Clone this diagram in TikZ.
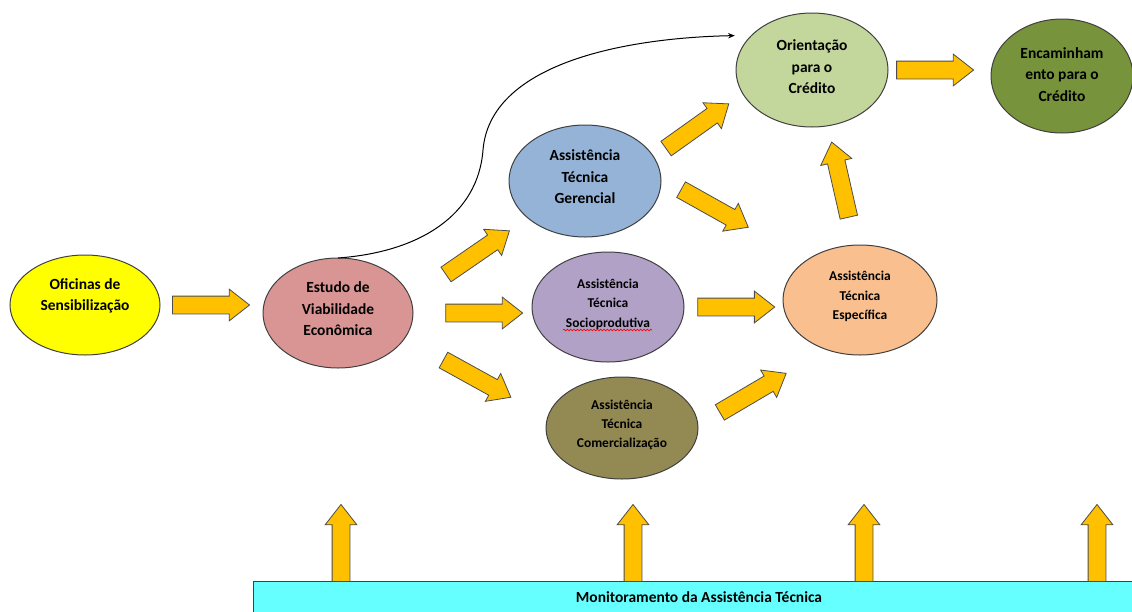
\documentclass[tikz,border=0pt]{standalone}
\usepackage{fontspec}
\setmainfont{Carlito}
\usetikzlibrary{shapes.geometric,shapes.arrows,arrows.meta,decorations.pathmorphing}

\definecolor{corOficinas}{HTML}{FFFF00}
\definecolor{corEstudo}{HTML}{D99594}
\definecolor{corGerencial}{HTML}{95B3D7}
\definecolor{corSocio}{HTML}{B2A1C7}
\definecolor{corComercial}{HTML}{938953}
\definecolor{corEspecifica}{HTML}{FABF8F}
\definecolor{corOrientacao}{HTML}{C3D69B}
\definecolor{corEncaminha}{HTML}{77933C}
\definecolor{corBarra}{HTML}{66FFFF}
\definecolor{corSeta}{HTML}{FFC000}

\tikzset{every picture/.style={line width=0.75pt}}
\tikzset{
  etapa/.style={ellipse, draw=black!75, inner sep=0pt, outer sep=0pt, align=center,
    font=\bfseries\fontsize{11.6}{16.1}\selectfont},
  etapapeq/.style={etapa, font=\bfseries\fontsize{10.1}{14.6}\selectfont},
  seta/.style={single arrow, draw=black!70, fill=corSeta, line width=0.6pt, transform shape,
    minimum height=57.75pt, minimum width=23.25pt, inner sep=6.375pt,
    single arrow head extend=5.25pt, single arrow tip angle=76, single arrow head indent=0pt,
    sloped, allow upside down},
}

\begin{document}
\begin{tikzpicture}[x=0.75pt,y=0.75pt,yscale=-1,xscale=1]
\useasboundingbox (0,0) rectangle (1132,611);

%Shape: Ellipse
\node[etapa, fill=corOficinas, minimum width=112.5pt, minimum height=75pt, text depth=15.5pt] (oficinas) at (85,305) {Oficinas de\\Sensibilização};
%Shape: Ellipse
\node[etapa, fill=corEstudo, minimum width=112.5pt, minimum height=82.5pt, text depth=6pt] (estudo) at (338,313) {Estudo de\\Viabilidade\\Econômica};
%Shape: Ellipse
\node[etapa, fill=corGerencial, minimum width=114pt, minimum height=84pt, text depth=6pt] (gerencial) at (585,181) {Assistência\\Técnica\\Gerencial};
%Shape: Ellipse
\node[etapapeq, fill=corSocio, minimum width=114pt, minimum height=82.5pt, text depth=5.8pt] (socio) at (608,307) {Assistência\\Técnica\\Socioprodutiva};
%Shape: Ellipse
\node[etapapeq, fill=corComercial, minimum width=114pt, minimum height=76.5pt, text depth=6.3pt] (comercial) at (622,428) {Assistência\\Técnica\\Comercialização};
%Shape: Ellipse
\node[etapapeq, fill=corEspecifica, minimum width=115.5pt, minimum height=82.5pt, text depth=7pt] (especifica) at (860,300) {Assistência\\Técnica\\Específica};
%Shape: Ellipse
\node[etapa, fill=corOrientacao, minimum width=114pt, minimum height=85.5pt, text depth=4.5pt] (orientacao) at (812,70) {Orientação\\para o\\Crédito};
%Shape: Ellipse
\node[etapa, fill=corEncaminha, minimum width=106.5pt, minimum height=85.5pt, text depth=2.2pt] (encaminhamento) at (1062,76) {Encaminham\\ento para o\\Crédito};

%Shape: Rectangle
\node[draw=black!75, fill=corBarra, inner sep=0pt, minimum width=669pt, minimum height=24pt,
  font=\bfseries\fontsize{11.6}{16.1}\selectfont] (monitoramento) at (699,597) {Monitoramento da Assistência Técnica};

%Red wavy underline
\draw[red, line width=0.5pt, decorate, decoration={snake, amplitude=0.6pt, segment length=2.5pt}]
  ([shift={(-45,23)}]socio.center) -- ([shift={(44,23)}]socio.center);

%Block arrows
\path (oficinas.east) -- (oficinas.east -| estudo.west) node[seta, pos=0.44] {};
\path (estudo.11) -- (gerencial.213) node[seta, pos=0.532] {};
\path (estudo.east) -- (estudo.east -| socio.west) node[seta, pos=0.55] {};
\path (estudo.-21) -- (comercial.172) node[seta, pos=0.473] {};
\path (gerencial.19) -- (orientacao.199) node[seta, pos=0.437] {};
\path (gerencial.2) -- (especifica.143) node[seta, pos=0.334] {};
\path (socio.east) -- (socio.east -| especifica.west) node[seta, pos=0.47] {};
\path (comercial.2) -- (especifica.236) node[seta, pos=0.39] {};
\path (especifica.95) -- (orientacao.-74) node[seta, pos=0.502] {};
\path (orientacao.east) -- (orientacao.east -| encaminhamento.west) node[seta, pos=0.402] {};

%Arrows from the bar
\foreach \x in {341,633,864,1097}
  \path (\x,581) -- (\x,504) node[seta, pos=0.42] {};

%Curve Lines
\draw[-{Stealth[length=5pt,width=4pt]}, shorten >=12.75pt] (estudo.north) .. controls (420,252) and (478,215) .. (483,150) .. controls (490,65) and (620,38) .. (orientacao.150);

\end{tikzpicture}
\end{document}
